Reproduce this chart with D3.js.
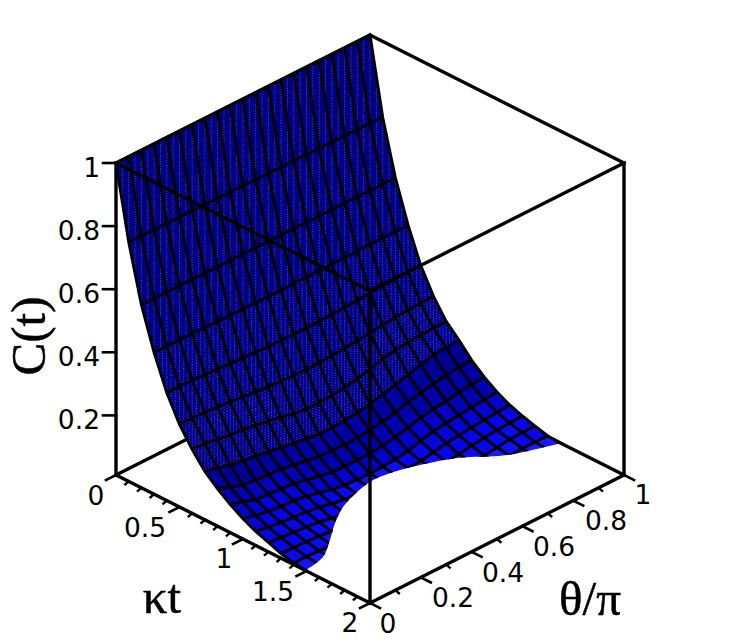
<!DOCTYPE html>
<html>
<head>
<meta charset="utf-8">
<script src="https://d3js.org/d3.v7.min.js"></script>
<style>
  html, body { margin: 0; padding: 0; background: #fff; }
  svg { display: block; }
  .num { font-family: "DejaVu Sans"; font-size: 26.5px; fill: #000; }
  .title { font-family: "Liberation Serif"; font-size: 49px; fill: #000; stroke: #000; stroke-width: 0.5px; }
</style>
</head>
<body>
<svg id="chart" width="740" height="641"></svg>
<script>
  // axis values
  var kappaGrid = [0, 0.1, 0.2, 0.3, 0.4, 0.5, 0.6, 0.7, 0.8, 0.9, 1, 1.1, 1.2, 1.3, 1.4, 1.5, 1.6];
  var thetaGrid = [0, 0.05, 0.1, 0.15, 0.2, 0.25, 0.3, 0.35, 0.4, 0.45, 0.5, 0.55, 0.6, 0.65, 0.7, 0.75, 0.8, 0.85, 0.9, 0.95, 1];
  var zTicks = [0.2, 0.4, 0.6, 0.8, 1];
  var kappaLabels = [0, 0.5, 1, 1.5, 2];
  var kappaMinor = [0.1, 0.2, 0.3, 0.4, 0.6, 0.7, 0.8, 0.9, 1.1, 1.2, 1.3, 1.4, 1.6, 1.7, 1.8, 1.9];
  var thetaLabels = [0, 0.2, 0.4, 0.6, 0.8, 1];
  var thetaMinor = [0.1, 0.3, 0.5, 0.7, 0.9];

  // C(t), one row per kappa t, one column per theta
  var c00 = [1, 1, 1, 1, 1, 1, 1, 1, 1, 1, 1, 1, 1, 1, 1, 1, 1, 1, 1, 1, 1];
  var c01 = [.767, .767, .766, .766, .765, .765, .764, .764, .763, .763, .762, .762, .761, .761, .76, .76, .759, .759, .758, .758, .757];
  var c02 = [.586, .586, .586, .586, .586, .585, .585, .585, .585, .585, .585, .585, .585, .584, .584, .584, .584, .584, .583, .583, .583];
  var c03 = [.454, .454, .454, .453, .452, .452, .451, .45, .45, .449, .449, .449, .449, .45, .45, .451, .451, .452, .452, .452, .452];
  var c04 = [.346, .346, .344, .342, .34, .337, .335, .332, .33, .329, .328, .328, .329, .33, .332, .334, .337, .339, .341, .342, .343];
  var c05 = [.265, .264, .262, .259, .255, .25, .246, .242, .239, .237, .236, .237, .239, .242, .246, .25, .255, .259, .262, .264, .265];
  var c06 = [.205, .204, .195, .19, .186, .18, .172, .164, .155, .15, .15, .152, .158, .165, .175, .188, .195, .2, .203, .204, .205];
  var c07 = [.155, .145, .135, .128, .122, .115, .108, .101, .095, .09, .09, .092, .097, .105, .115, .125, .137, .148, .16, .163, .166];
  var c08 = [.12, .105, .09, .086, .083, .08, .073, .066, .06, .058, .057, .058, .062, .068, .078, .09, .1, .108, .115, .12, .122];
  var c09 = [.09, .078, .065, .062, .058, .055, .045, .037, .03, .028, .027, .028, .032, .04, .05, .06, .067, .073, .08, .085, .088];
  var c10 = [.065, .056, .047, .043, .04, .035, .025, .015, .008, .006, .005, .006, .009, .016, .027, .038, .043, .048, .052, .057, .061];
  var c11 = [.045, .038, .033, .029, .025, .02, .01, .004, .001, 0, 0, 0, .001, .004, .011, .02, .025, .029, .033, .037, .04];
  var c12 = [.03, .026, .022, .018, .013, .005, .001, 0, 0, 0, 0, 0, 0, 0, .001, .005, .012, .017, .02, .023, .025];
  var c13 = [.015, .014, .012, .009, .004, .001, 0, 0, 0, 0, 0, 0, 0, 0, 0, 0, .001, .006, .012, .013, .013];
  var c14 = [.005, .005, .003, .001, 0, 0, 0, 0, 0, 0, 0, 0, 0, 0, 0, 0, 0, .001, .003, .003, .002];
  var c15 = [.001, 0, 0, 0, 0, 0, 0, 0, 0, 0, 0, 0, 0, 0, 0, 0, 0, 0, 0, 0, 0];
  var c16 = [0, 0, 0, 0, 0, 0, 0, 0, 0, 0, 0, 0, 0, 0, 0, 0, 0, 0, 0, 0, 0];
  var surface = [c00, c01, c02, c03, c04, c05, c06, c07, c08, c09, c10, c11, c12, c13, c14, c15, c16];

  // where C(t) reaches zero (sudden death line)
  var edgeTheta = [0, 0.087, 0.167, 0.244, 0.322, 0.408, 0.487, 0.579, 0.638, 0.738, 0.848, 0.978, 1];
  var edgeKappa = [1.49, 1.456, 1.35, 1.237, 1.144, 1.082, 1.051, 1.079, 1.119, 1.21, 1.383, 1.486, 1.5];

  var svg = d3.select("#chart");

  // isometric box
  var kappaX = d3.scaleLinear().domain([0, 2]).range([0, 254]);
  var kappaY = d3.scaleLinear().domain([0, 2]).range([0, 128]);
  var thetaX = d3.scaleLinear().domain([0, 1]).range([0, 254]);
  var thetaY = d3.scaleLinear().domain([0, 1]).range([0, -128]);
  var zY = d3.scaleLinear().domain([0, 1]).range([0, -312]);
  var zTickY = d3.scaleLinear().domain([0, 1]).range([478.5, 163]);

  function project(k, t, c) {
    return [116 + kappaX(k) + thetaX(t), 475 + kappaY(k) + thetaY(t) + zY(c)];
  }
  function segment(a, b, width) {
    var path = d3.line()([a, b]);
    svg.append("path").attr("d", path).attr("stroke", "#000")
      .attr("stroke-width", width).attr("stroke-linecap", "square").attr("fill", "none");
  }
  function mix(a, b, u) { return a + (b - a) * u; }

  // back of the box goes under the surface
  segment(project(0, 0, 0), project(0, 1, 0), 3.4);
  segment(project(0, 1, 0), project(2, 1, 0), 3.4);
  segment(project(0, 0, 1), project(0, 1, 1), 3.4);
  segment(project(0, 1, 1), project(2, 1, 1), 3.4);

  // clip the mesh along the zero line
  var edgePts = edgeTheta.map(function(t, i) { return project(edgeKappa[i], t, 0); });
  var edgePath = d3.line().curve(d3.curveCatmullRom)(edgePts);
  svg.append("clipPath").attr("id", "zeroClip").append("path")
    .attr("d", edgePath + "L800,443L800,-10L-10,-10L-10,571Z");

  var mesh = svg.append("g").attr("clip-path", "url(#zeroClip)");

  // colour follows how steep the cell is
  var blueOf = d3.scaleLinear().domain([0.03, 0.14, 0.3, 0.5, 2.5]).range([255, 232, 170, 135, 125]).clamp(true);
  var redOf = d3.scaleLinear().domain([0.03, 0.1, 0.3]).range([24, 6, 0]).clamp(true);

  var cells = [];
  kappaGrid.slice(0, -1).forEach(function(k, i) {
    thetaGrid.slice(0, -1).forEach(function(t, j) {
      cells.push({
        k0: k, k1: kappaGrid[i + 1], t0: t, t1: thetaGrid[j + 1],
        a: surface[i][j], b: surface[i + 1][j], c: surface[i + 1][j + 1], d: surface[i][j + 1]
      });
    });
  });

  mesh.selectAll("path.cell").data(cells).enter().append("path")
    .attr("class", "cell")
    .attr("d", function(d) {
      return d3.line()([project(d.k0, d.t0, d.a), project(d.k1, d.t0, d.b), project(d.k1, d.t1, d.c), project(d.k0, d.t1, d.d)]) + "Z";
    })
    .each(function(d) {
      var slope = Math.abs((d.a + d.d - d.b - d.c) / 2) / (d.k1 - d.k0);
      var col = d3.rgb(redOf(slope), redOf(slope), blueOf(slope));
      d3.select(this).attr("fill", col).attr("stroke", col).attr("stroke-width", 0.6);
    });

  // faint dotted triangle seams on the steep part
  var seams = [];
  cells.filter(function(d) { return d.k0 < 0.65; }).forEach(function(d) {
    var n = d.k0 < 0.25 ? 2 : (d.k0 < 0.45 ? 3 : 4);
    function at(u, v) {
      var c = mix(mix(d.a, d.b, u), mix(d.d, d.c, u), v);
      return project(mix(d.k0, d.k1, u), mix(d.t0, d.t1, v), c);
    }
    for (var p = 0; p < n; p++) {
      for (var q = 0; q < n; q++) {
        seams.push([at((p + 1) / n, q / n), at(p / n, (q + 1) / n)]);
      }
    }
  });
  mesh.selectAll("path.seam").data(seams).enter().append("path")
    .attr("class", "seam")
    .attr("d", function(d) { return d3.line()(d); })
    .attr("fill", "none").attr("stroke", "#5a5ae0")
    .attr("stroke-width", 0.8).attr("stroke-dasharray", "1 1.4");

  // grid lines of the surface
  var lineGen = d3.line();
  thetaGrid.forEach(function(t, j) {
    var pts = kappaGrid.map(function(k, i) { return project(k, t, surface[i][j]); });
    mesh.append("path").attr("d", lineGen(pts)).attr("fill", "none").attr("stroke", "#000").attr("stroke-width", 2.9);
  });
  kappaGrid.forEach(function(k, i) {
    var pts = thetaGrid.map(function(t, j) { return project(k, t, surface[i][j]); });
    mesh.append("path").attr("d", lineGen(pts)).attr("fill", "none").attr("stroke", "#000").attr("stroke-width", 2.9);
  });

  // front of the box on top
  segment(project(0, 0, 0), project(0, 0, 1), 3.4);
  segment(project(0, 0, 1), project(2, 0, 1), 3.4);
  segment(project(2, 0, 1), project(2, 1, 1), 3.4);
  segment(project(2, 0, 0), project(2, 0, 1), 3.4);
  segment(project(2, 1, 0), project(2, 1, 1), 3.4);
  segment(project(0, 0, 0), project(2, 0, 0), 3.4);
  segment(project(2, 0, 0), project(2, 1, 0), 3.4);

  // ticks
  zTicks.forEach(function(z) {
    segment([103, zTickY(z)], [116, zTickY(z)], 2.6);
  });
  kappaLabels.forEach(function(k) {
    var p = project(k, 0, 0);
    segment(p, [p[0] - 10, p[1] + 5], 2.6);
  });
  kappaMinor.forEach(function(k) {
    var p = project(k, 0, 0);
    segment(p, [p[0] - 3.5, p[1] + 3], 2.4);
  });
  thetaLabels.forEach(function(t) {
    var p = project(2, t, 0);
    segment(p, [p[0] + 10, p[1] + 5], 2.6);
  });
  thetaMinor.forEach(function(t) {
    var p = project(2, t, 0);
    segment(p, [p[0] + 3.5, p[1] + 3], 2.4);
  });

  // number labels
  function num(text, x, y, anchor) {
    svg.append("text").attr("class", "num").attr("x", x).attr("y", y)
      .attr("text-anchor", anchor || "middle").text(text);
  }
  zTicks.forEach(function(z) {
    num(String(z), 100, zTickY(z) + 13.5, "end");
  });
  var kappaLabelX = [96, 145, 224, 273, 350];
  var kappaLabelY = [505, 537, 568, 601, 632];
  kappaLabels.forEach(function(k, i) { num(String(k), kappaLabelX[i], kappaLabelY[i]); });
  var thetaLabelX = [388, 453, 503, 554, 606, 643];
  var thetaLabelY = [633, 607, 582, 556, 530, 504];
  thetaLabels.forEach(function(t, i) { num(String(t), thetaLabelX[i], thetaLabelY[i]); });

  // axis titles
  svg.append("text").attr("class", "title").attr("transform", "translate(45,336) rotate(-90)")
    .attr("text-anchor", "middle").text("C(t)");
  svg.append("text").attr("class", "title").attr("x", 162).attr("y", 613)
    .attr("text-anchor", "middle").text("κt");
  svg.append("text").attr("class", "title").attr("x", 590).attr("y", 615)
    .attr("text-anchor", "middle").text("θ/π");
</script>
</body>
</html>
